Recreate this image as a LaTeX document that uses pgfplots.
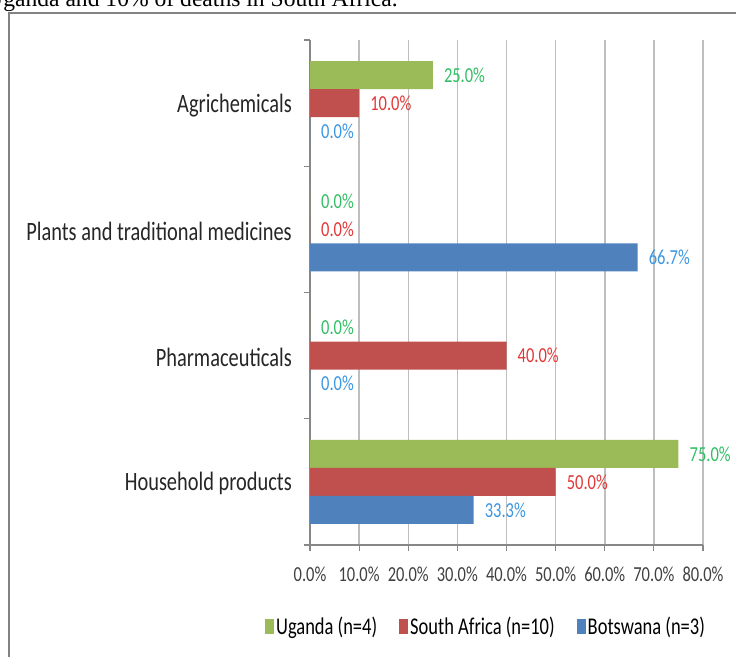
\documentclass[border=0pt]{standalone}
\usepackage{fontspec}
\setmainfont{Carlito}[FakeStretch=0.77]
\newfontfamily\hdrfont{Liberation Serif}
\usepackage{pgfplots}
\pgfplotsset{compat=1.18}

\definecolor{ugfill}{HTML}{9BBB59}
\definecolor{safill}{HTML}{C0504D}
\definecolor{bwfill}{HTML}{4F81BD}
\definecolor{uglab}{RGB}{50,190,100}
\definecolor{salab}{RGB}{225,55,55}
\definecolor{bwlab}{RGB}{60,150,225}
\definecolor{gridgray}{RGB}{190,190,190}
\definecolor{axgray}{RGB}{135,135,135}
\definecolor{framegray}{RGB}{130,130,130}

\newcommand{\lblfont}{\fontsize{21.4bp}{24bp}\selectfont}
\newcommand{\catfont}{\fontsize{26.5bp}{30bp}\selectfont}
\newcommand{\legfont}{\fontsize{24bp}{28bp}\selectfont}

\begin{document}
\begin{tikzpicture}[x=1bp,y=1bp]
\path[use as bounding box] (0,0) rectangle (736,657);
\draw[color=framegray, line width=2bp] (8.5,-5) -- (8.5,644) -- (745,644);
\node[anchor=base east, inner sep=0, font={\hdrfont\fontsize{23.6bp}{26bp}\selectfont}] at (398,650) {Uganda and 10\% of deaths in South Africa.};

\begin{axis}[
    at={(310bp,112bp)}, anchor=south west,
    scale only axis, width=393bp, height=505bp,
    xbar, bar width=0.222,
    xmin=0, xmax=80,
    ymin=-0.5, ymax=3.5,
    xtick={0,10,...,80},
    xticklabel={\pgfmathprintnumber[fixed,fixed zerofill,precision=1]{\tick}\%},
    /pgf/number format/assume math mode=true,
    xticklabel style={font=\lblfont, text=black!75, anchor=base, inner sep=0, yshift=-31bp},
    ytick={-0.5,0.5,1.5,2.5,3.5},
    yticklabels={},
    extra y ticks={0,1,2,3},
    extra y tick labels={Household products,Pharmaceuticals,Plants and traditional medicines,Agrichemicals},
    extra y tick style={major tick length=0pt,
        yticklabel style={font=\catfont, text=black!85, anchor=east, inner sep=0, xshift=-18bp, yshift=-2bp}},
    axis x line*=bottom, axis y line*=left,
    axis line style={axgray, line width=1.2bp},
    tick style={axgray, line width=1.2bp},
    tick align=outside, major tick length=6bp,
    xmajorgrids, grid style={gridgray, line width=1.5bp},
    every node near coord/.append style={font=\lblfont, anchor=west, inner sep=0, xshift=11bp},
    nodes near coords={\pgfmathprintnumber[fixed,fixed zerofill,precision=1]{\pgfplotspointmeta}\%},
    legend columns=3,
    legend style={draw=none, at={(0.448,-0.162)}, anchor=center, font=\legfont,
        /tikz/every even column/.append style={column sep=20bp}},
    legend image code/.code={\fill[#1] (0bp,-7bp) rectangle (9bp,8bp);},
]
\addplot[fill=ugfill, draw=none, bar shift=0.222,
    every node near coord/.append style={text=uglab}]
    coordinates {(75,0) (0,1) (0,2) (25,3)};
\addlegendentry{Uganda (n=4)}
\addplot[fill=safill, draw=none, bar shift=0,
    every node near coord/.append style={text=salab}]
    coordinates {(50,0) (40,1) (0,2) (10,3)};
\addlegendentry{South Africa (n=10)}
\addplot[fill=bwfill, draw=none, bar shift=-0.222,
    every node near coord/.append style={text=bwlab}]
    coordinates {(33.3,0) (0,1) (66.7,2) (0,3)};
\addlegendentry{Botswana (n=3)}
\draw[axgray, line width=1.2bp] (axis cs:0,-0.5) -- ++(-7bp,0);
\end{axis}
\end{tikzpicture}
\end{document}
